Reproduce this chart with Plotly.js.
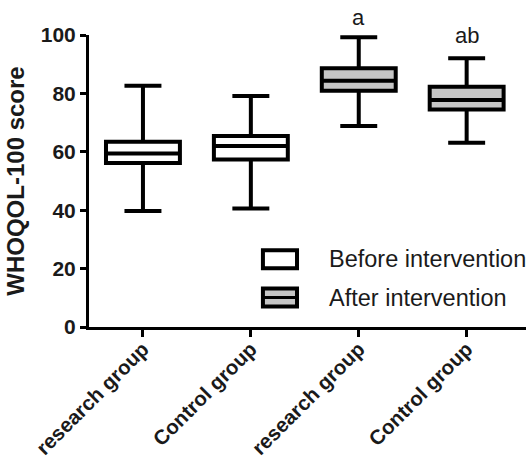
<!DOCTYPE html>
<html>
<head>
<meta charset="utf-8">
<script src="https://cdn.plot.ly/plotly-3.0.1.min.js"></script>
<style>html,body{margin:0;padding:0;background:#fff;}#chart{width:526px;height:464px;}</style>
</head>
<body>
<div id="chart"></div>
<script>
// ---- data ----
const categories = ['research group', 'Control group', 'research group', 'Control group'];
const positions = [0, 1, 2, 3];
const beforeIdx = [0, 1];
const afterIdx = [2, 3];
const lowerWhisker = [39.7, 40.6, 68.8, 63.1];
const q1 = [56.2, 57.4, 80.9, 74.5];
const medians = [59.4, 62.0, 84.3, 77.7];
const q3 = [63.4, 65.4, 88.6, 82.3];
const upperWhisker = [82.6, 79.1, 99.2, 92.0];
const seriesNames = ['Before intervention', 'After intervention'];
const sigLabels = ['', '', 'a', 'ab'];
const sigLabelY = [null, null, 106.0, 100.0];
const yTicks = [0, 20, 40, 60, 80, 100];
const yRange = [0, 100];

const pick = (arr, idx) => idx.map(i => arr[i]);
const FONT = '"Liberation Sans", Arial, Helvetica, sans-serif';

function boxTrace(idx, name, fill) {
  return {
    type: 'box', name: name, showlegend: false,
    x: pick(positions, idx),
    q1: pick(q1, idx), median: pick(medians, idx), q3: pick(q3, idx),
    lowerfence: pick(lowerWhisker, idx), upperfence: pick(upperWhisker, idx),
    width: 0.685, whiskerwidth: 0.5,
    fillcolor: fill,
    line: {color: '#000', width: 4},
    hoverinfo: 'skip'
  };
}

const traces = [
  boxTrace(beforeIdx, seriesNames[0], '#ffffff'),
  boxTrace(afterIdx, seriesNames[1], '#c6c6c6')
];

// significance letters (placed above the axis range, so use paper y derived from the value)
const annotations = [];
positions.forEach((p, i) => {
  if (sigLabels[i]) annotations.push({
    x: p, xref: 'x',
    y: (sigLabelY[i] - yRange[0]) / (yRange[1] - yRange[0]), yref: 'paper',
    text: sigLabels[i],
    showarrow: false, xanchor: 'center', yanchor: 'middle',
    font: {family: FONT, size: 22, color: '#1a1a1a'}
  });
});
// manual legend text
annotations.push({x: 0.545, y: 0.232, xref: 'paper', yref: 'paper', text: seriesNames[0],
  showarrow: false, xanchor: 'left', yanchor: 'middle', font: {family: FONT, size: 23.5, color: '#1a1a1a'}});
annotations.push({x: 0.545, y: 0.100, xref: 'paper', yref: 'paper', text: seriesNames[1],
  showarrow: false, xanchor: 'left', yanchor: 'middle', font: {family: FONT, size: 23.5, color: '#1a1a1a'}});

const shapes = [
  {type: 'rect', xref: 'paper', yref: 'paper', x0: 0.398, x1: 0.476, y0: 0.201, y1: 0.263,
   line: {color: '#000', width: 4}, fillcolor: '#ffffff'},
  {type: 'rect', xref: 'paper', yref: 'paper', x0: 0.398, x1: 0.476, y0: 0.0706, y1: 0.132,
   line: {color: '#000', width: 4}, fillcolor: '#c6c6c6'},
  {type: 'line', xref: 'paper', yref: 'paper', x0: 0.398, x1: 0.476, y0: 0.101, y1: 0.101,
   line: {color: '#000', width: 3}}
];

const layout = {
  width: 526, height: 464,
  margin: {l: 89, r: 0, t: 35, b: 137},
  paper_bgcolor: '#fff', plot_bgcolor: '#fff',
  showlegend: false,
  xaxis: {
    range: [-0.5, 3.55], tickvals: positions, ticktext: categories,
    tickangle: -45, ticks: 'outside', ticklen: 7, tickwidth: 3, tickcolor: '#000',
    ticklabelstandoff: -8,
    showline: true, linewidth: 3, linecolor: '#000', showgrid: false, zeroline: false,
    tickfont: {family: FONT, size: 20.5, color: '#1a1a1a', weight: 'bold'}
  },
  yaxis: {
    range: yRange, tickvals: yTicks, ticks: 'outside', ticklen: 6, tickwidth: 3, tickcolor: '#000',
    showline: true, linewidth: 3, linecolor: '#000', showgrid: false, zeroline: false,
    tickfont: {family: FONT, size: 21, color: '#1a1a1a', weight: 'bold'},
    title: {text: 'WHOQOL-100 score', font: {family: FONT, size: 24, color: '#1a1a1a', weight: 'bold'}, standoff: 10}
  },
  annotations: annotations,
  shapes: shapes
};

Plotly.newPlot('chart', traces, layout, {staticPlot: true});
</script>
</body>
</html>
